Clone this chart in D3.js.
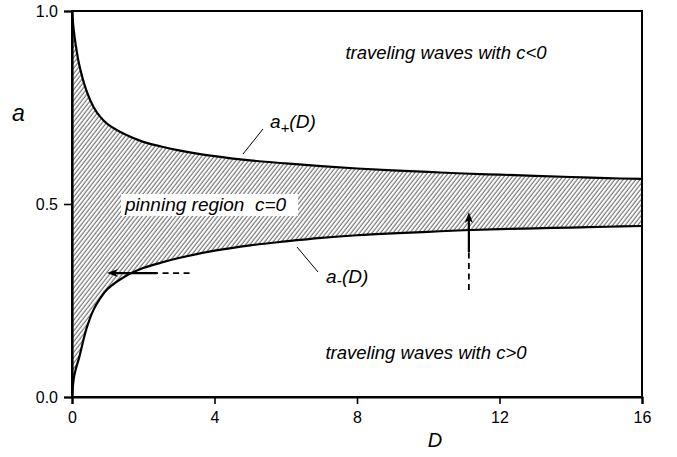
<!DOCTYPE html>
<html>
<head>
<meta charset="utf-8">
<script src="https://cdn.jsdelivr.net/npm/d3@7"></script>
<style>
  body { margin: 0; background: #fff; }
  svg { font-family: "Liberation Sans", Arial, sans-serif; }
</style>
</head>
<body>
<div class="container"></div>
<script>
// values
const dValues = [0, 0.05, 0.1, 0.2, 0.4, 0.6, 0.8, 1, 1.5, 2, 2.5, 3, 4, 5, 6, 7, 8, 9, 10, 11, 12, 13, 14, 15, 16];
const aPlus = [1.0, 0.95, 0.915, 0.862, 0.795, 0.752, 0.725, 0.707, 0.68, 0.661, 0.649, 0.639, 0.624, 0.613, 0.605, 0.598, 0.592, 0.587, 0.583, 0.579, 0.576, 0.573, 0.57, 0.567, 0.565];
const aMinus = [0.0, 0.048, 0.07, 0.102, 0.175, 0.225, 0.257, 0.28, 0.313, 0.334, 0.348, 0.36, 0.379, 0.393, 0.403, 0.412, 0.419, 0.424, 0.428, 0.432, 0.435, 0.437, 0.439, 0.441, 0.443];
const xTicks = [0, 4, 8, 12, 16];
const yTicks = [0, 0.5, 1];
// arrows: [D, a] start -> end
const leftArrow = { from: [3.3, 0.321], to: [0.98, 0.321] };
const upArrow = { from: [11.14, 0.277], to: [11.14, 0.479] };

const rows = dValues.map((d, i) => ({ d, hi: aPlus[i], lo: aMinus[i] }));

const width = 677;
const height = 457;
const margin = { top: 11, right: 35, bottom: 60, left: 72 };

const x = d3.scaleLinear().domain([0, 16]).range([margin.left, width - margin.right]);
const y = d3.scaleLinear().domain([0, 1]).range([height - margin.bottom, margin.top]);

const svg = d3.select(".container")
  .append("svg")
  .attr("width", width)
  .attr("height", height);

// hatch pattern for the pinning region
svg.append("defs")
  .append("pattern")
  .attr("id", "hatch")
  .attr("patternUnits", "userSpaceOnUse")
  .attr("width", 3.3)
  .attr("height", 10)
  .attr("patternTransform", "rotate(38)")
  .append("line")
  .attr("x1", 1).attr("y1", 0)
  .attr("x2", 1).attr("y2", 10)
  .attr("stroke", "#222")
  .attr("stroke-width", 0.8);

const curve = d3.curveCatmullRom.alpha(0.5);

const area = d3.area()
  .x((r) => x(r.d))
  .y0((r) => y(r.lo))
  .y1((r) => y(r.hi))
  .curve(curve);

svg.append("path")
  .datum(rows)
  .attr("d", area)
  .attr("fill", "url(#hatch)");

const lineHi = d3.line().x((r) => x(r.d)).y((r) => y(r.hi)).curve(curve);
const lineLo = d3.line().x((r) => x(r.d)).y((r) => y(r.lo)).curve(curve);

svg.append("g")
  .attr("fill", "none")
  .attr("stroke", "#000")
  .attr("stroke-width", 2.2)
  .selectAll("path")
  .data([lineHi, lineLo])
  .join("path")
  .attr("d", (fn) => fn(rows));

// frame
svg.append("rect")
  .attr("x", x(0))
  .attr("y", y(1))
  .attr("width", x(16) - x(0))
  .attr("height", y(0) - y(1))
  .attr("fill", "none")
  .attr("stroke", "#000")
  .attr("stroke-width", 2);

// axes
const xAxis = svg.append("g")
  .attr("transform", `translate(0,${y(0)})`)
  .call(d3.axisBottom(x).tickValues(xTicks).tickSize(7).tickPadding(8).tickFormat(d3.format("d")));
const yAxis = svg.append("g")
  .attr("transform", `translate(${x(0)},0)`)
  .call(d3.axisLeft(y).tickValues(yTicks).tickSize(8).tickPadding(6).tickFormat(d3.format(".1f")));

[xAxis, yAxis].forEach((g) => {
  g.select(".domain").attr("stroke-width", 2.2);
  g.selectAll(".tick line").attr("stroke-width", 1.6);
  g.selectAll("text")
    .attr("font-size", 16)
    .attr("font-family", "Liberation Sans, Arial, sans-serif")
    .attr("fill", "#000");
});

// axis titles
svg.append("text")
  .attr("x", 435).attr("y", 447)
  .attr("text-anchor", "middle")
  .attr("font-size", 20)
  .attr("font-style", "italic")
  .text("D");
svg.append("text")
  .attr("x", 12).attr("y", 121)
  .attr("font-size", 23)
  .attr("font-style", "italic")
  .text("a");

// region labels
const italic = (sel) => sel.attr("font-style", "italic").attr("font-size", 18.5).attr("fill", "#000");

svg.append("text").call(italic)
  .attr("x", 446).attr("y", 59)
  .attr("text-anchor", "middle")
  .text("traveling waves with c<0");
svg.append("text").call(italic)
  .attr("x", 426).attr("y", 359)
  .attr("text-anchor", "middle")
  .text("traveling waves with c>0");

// pinning region label on a white box
svg.append("rect")
  .attr("x", 121).attr("y", 194)
  .attr("width", 177).attr("height", 22)
  .attr("fill", "#fff");
svg.append("text").call(italic)
  .attr("font-size", 19)
  .attr("x", 125).attr("y", 211)
  .attr("xml:space", "preserve")
  .text("pinning region  c=0");

// curve labels with leader lines
svg.append("line")
  .attr("x1", 263).attr("y1", 129).attr("x2", 243).attr("y2", 154)
  .attr("stroke", "#000").attr("stroke-width", 1);
const tPlus = svg.append("text").call(italic).attr("font-size", 19).attr("x", 270).attr("y", 128);
tPlus.append("tspan").text("a");
tPlus.append("tspan").attr("dy", 5).attr("font-size", 15).text("+");
tPlus.append("tspan").attr("dy", -5).text("(D)");

svg.append("line")
  .attr("x1", 297).attr("y1", 247).attr("x2", 318).attr("y2", 272)
  .attr("stroke", "#000").attr("stroke-width", 1);
const tMinus = svg.append("text").call(italic).attr("font-size", 19).attr("x", 326).attr("y", 283);
tMinus.append("tspan").text("a");
tMinus.append("tspan").attr("dy", 3).attr("font-size", 16).text("-");
tMinus.append("tspan").attr("dy", -3).text("(D)");

// arrows: solid part with head at the tip, dashed tail
function drawArrow(a, solidLen) {
  const [x0, y0] = [x(a.from[0]), y(a.from[1])];
  const [x1, y1] = [x(a.to[0]), y(a.to[1])];
  const len = Math.hypot(x1 - x0, y1 - y0);
  const ux = (x1 - x0) / len, uy = (y1 - y0) / len;
  const mx = x1 - ux * solidLen, my = y1 - uy * solidLen;
  svg.append("line")
    .attr("x1", x0).attr("y1", y0).attr("x2", mx).attr("y2", my)
    .attr("stroke", "#000").attr("stroke-width", 1.8)
    .attr("stroke-dasharray", "6,4.5");
  svg.append("line")
    .attr("x1", mx).attr("y1", my).attr("x2", x1 - ux * 6).attr("y2", y1 - uy * 6)
    .attr("stroke", "#000").attr("stroke-width", 2.2);
  const px = -uy, py = ux;
  svg.append("path")
    .attr("d", `M${x1},${y1}L${x1 - ux * 11 + px * 4},${y1 - uy * 11 + py * 4}L${x1 - ux * 8},${y1 - uy * 8}L${x1 - ux * 11 - px * 4},${y1 - uy * 11 - py * 4}Z`)
    .attr("fill", "#000");
}
drawArrow(leftArrow, 50);
drawArrow(upArrow, 40);
</script>
</body>
</html>
